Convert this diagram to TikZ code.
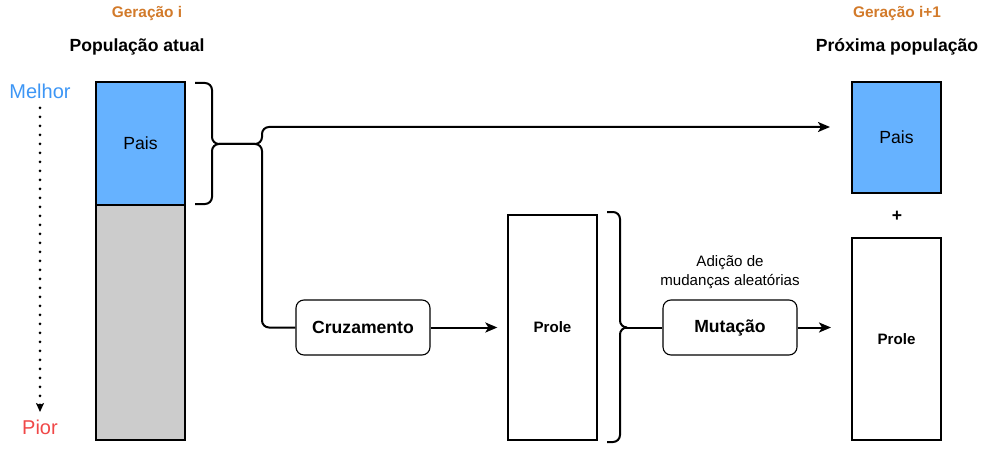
\documentclass[tikz,border=0pt]{standalone}
\usepackage{fontspec}
\setmainfont{Liberation Sans}
\usetikzlibrary{arrows.meta,calc}
\definecolor{geracao}{HTML}{D27A2A}
\definecolor{melhorc}{HTML}{3D96F5}
\definecolor{piorc}{HTML}{F04848}
\definecolor{paisfill}{HTML}{66B2FF}
\definecolor{restfill}{HTML}{CCCCCC}
\tikzset{
  block/.style={draw=black,line width=1.3pt,inner sep=0pt,font=\fontsize{17.6}{20}\selectfont},
  opbox/.style={draw=black,line width=1.1pt,rounded corners=8pt,minimum width=134pt,minimum height=55pt,inner sep=0pt,font=\bfseries\fontsize{17.6}{20}\selectfont},
  gentitle/.style={text=geracao,font=\bfseries\fontsize{15.4}{18}\selectfont},
  poptitle/.style={font=\bfseries\fontsize{17.6}{20}\selectfont},
  edge/.style={line width=2pt,rounded corners=7pt},
  tip/.style={-{Stealth[length=12pt,width=10pt,inset=3pt]}},
  bracepath/.style={line width=2pt,rounded corners=7pt}
}
\begin{document}
\begin{tikzpicture}[x=1pt,y=-1pt]
\useasboundingbox (0,0) rectangle (984,449);

% titles
\node[gentitle] (gen1) at (147,14) {Geração i};
\node[poptitle] (pop1) at (137,47) {População atual};
\node[gentitle] (gen2) at (897,14) {Geração i+1};
\node[poptitle] (pop2) at (897,47) {Próxima população};

% ranking scale
\node[text=melhorc,font=\fontsize{20}{24}\selectfont] (melhor) at (40,91) {Melhor};
\node[text=piorc,font=\fontsize{20}{24}\selectfont] (pior) at (40,427) {Pior};
\draw[line width=3pt,line cap=round,dash pattern=on 0pt off 9pt,
      -{Stealth[length=9pt,width=8pt,inset=2pt]}]
  (melhor.south) ++(0,6) coordinate (dotstart) -- (dotstart |- 0,412) coordinate (dotend);

% current population
\node[block,fill=paisfill,minimum width=89pt,minimum height=123pt] (pais1) at (140.5,143.5) {Pais};
\node[block,fill=restfill,minimum width=89pt,minimum height=235pt] (rest1) at (140.5,322.5) {};

% operators and offspring
\node[opbox] (cruz) at (363,327.5) {Cruzamento};
\node[block,minimum width=89pt,minimum height=225pt,font=\bfseries\fontsize{15.1}{18}\selectfont] (prole1) at (552.5,327.5) {Prole};
\node[opbox] (mut) at (730,327.5) {Mutação};
\node[font=\fontsize{15.1}{18.5}\selectfont,align=center] (adicao) at (730,272) {Adição de\\mudanças aleatórias};

% next population
\node[block,fill=paisfill,minimum width=89pt,minimum height=111pt] (pais2) at (896.5,137.5) {Pais};
\node[font=\bfseries\fontsize{17.6}{20}\selectfont] (plus) at (897,216) {+};
\node[block,minimum width=89pt,minimum height=202pt,font=\bfseries\fontsize{15.1}{18}\selectfont] (prole2) at (896.5,339) {Prole};

% brace over the parents
\coordinate (lbtop) at (195,83);
\coordinate (lbbot) at (195,204);
\coordinate (lbtip) at (219,144);
\draw[bracepath] (lbtop) -- (212,83) -- (212,144) -- (lbtip);
\draw[bracepath] (lbbot) -- (212,204) -- (212,144) -- (lbtip);

% brace over the offspring
\coordinate (rbtop) at (607,212);
\coordinate (rbbot) at (607,442);
\coordinate (rbtip) at (626,327.5);
\draw[bracepath] (rbtop) -- (620,212) -- (620,327.5) -- (rbtip);
\draw[bracepath] (rbbot) -- (620,442) -- (620,327.5) -- (rbtip);

% connectors
\coordinate (split) at (262,144);
\coordinate (pais2in) at (830,127);
\coordinate (prole2in) at (831,327.5);
\draw[edge,tip] (lbtip) -- (split) -- (split |- pais2in) -- (pais2in);
\draw[edge] (lbtip) -- (split) -- (split |- cruz.west) -- (cruz.west);
\draw[edge,tip,shorten >=10pt] (cruz.east) -- (cruz.east -| prole1.west);
\draw[edge] (rbtip) -- (mut.west);
\draw[edge,tip] (mut.east) -- (prole2in);
\end{tikzpicture}
\end{document}
